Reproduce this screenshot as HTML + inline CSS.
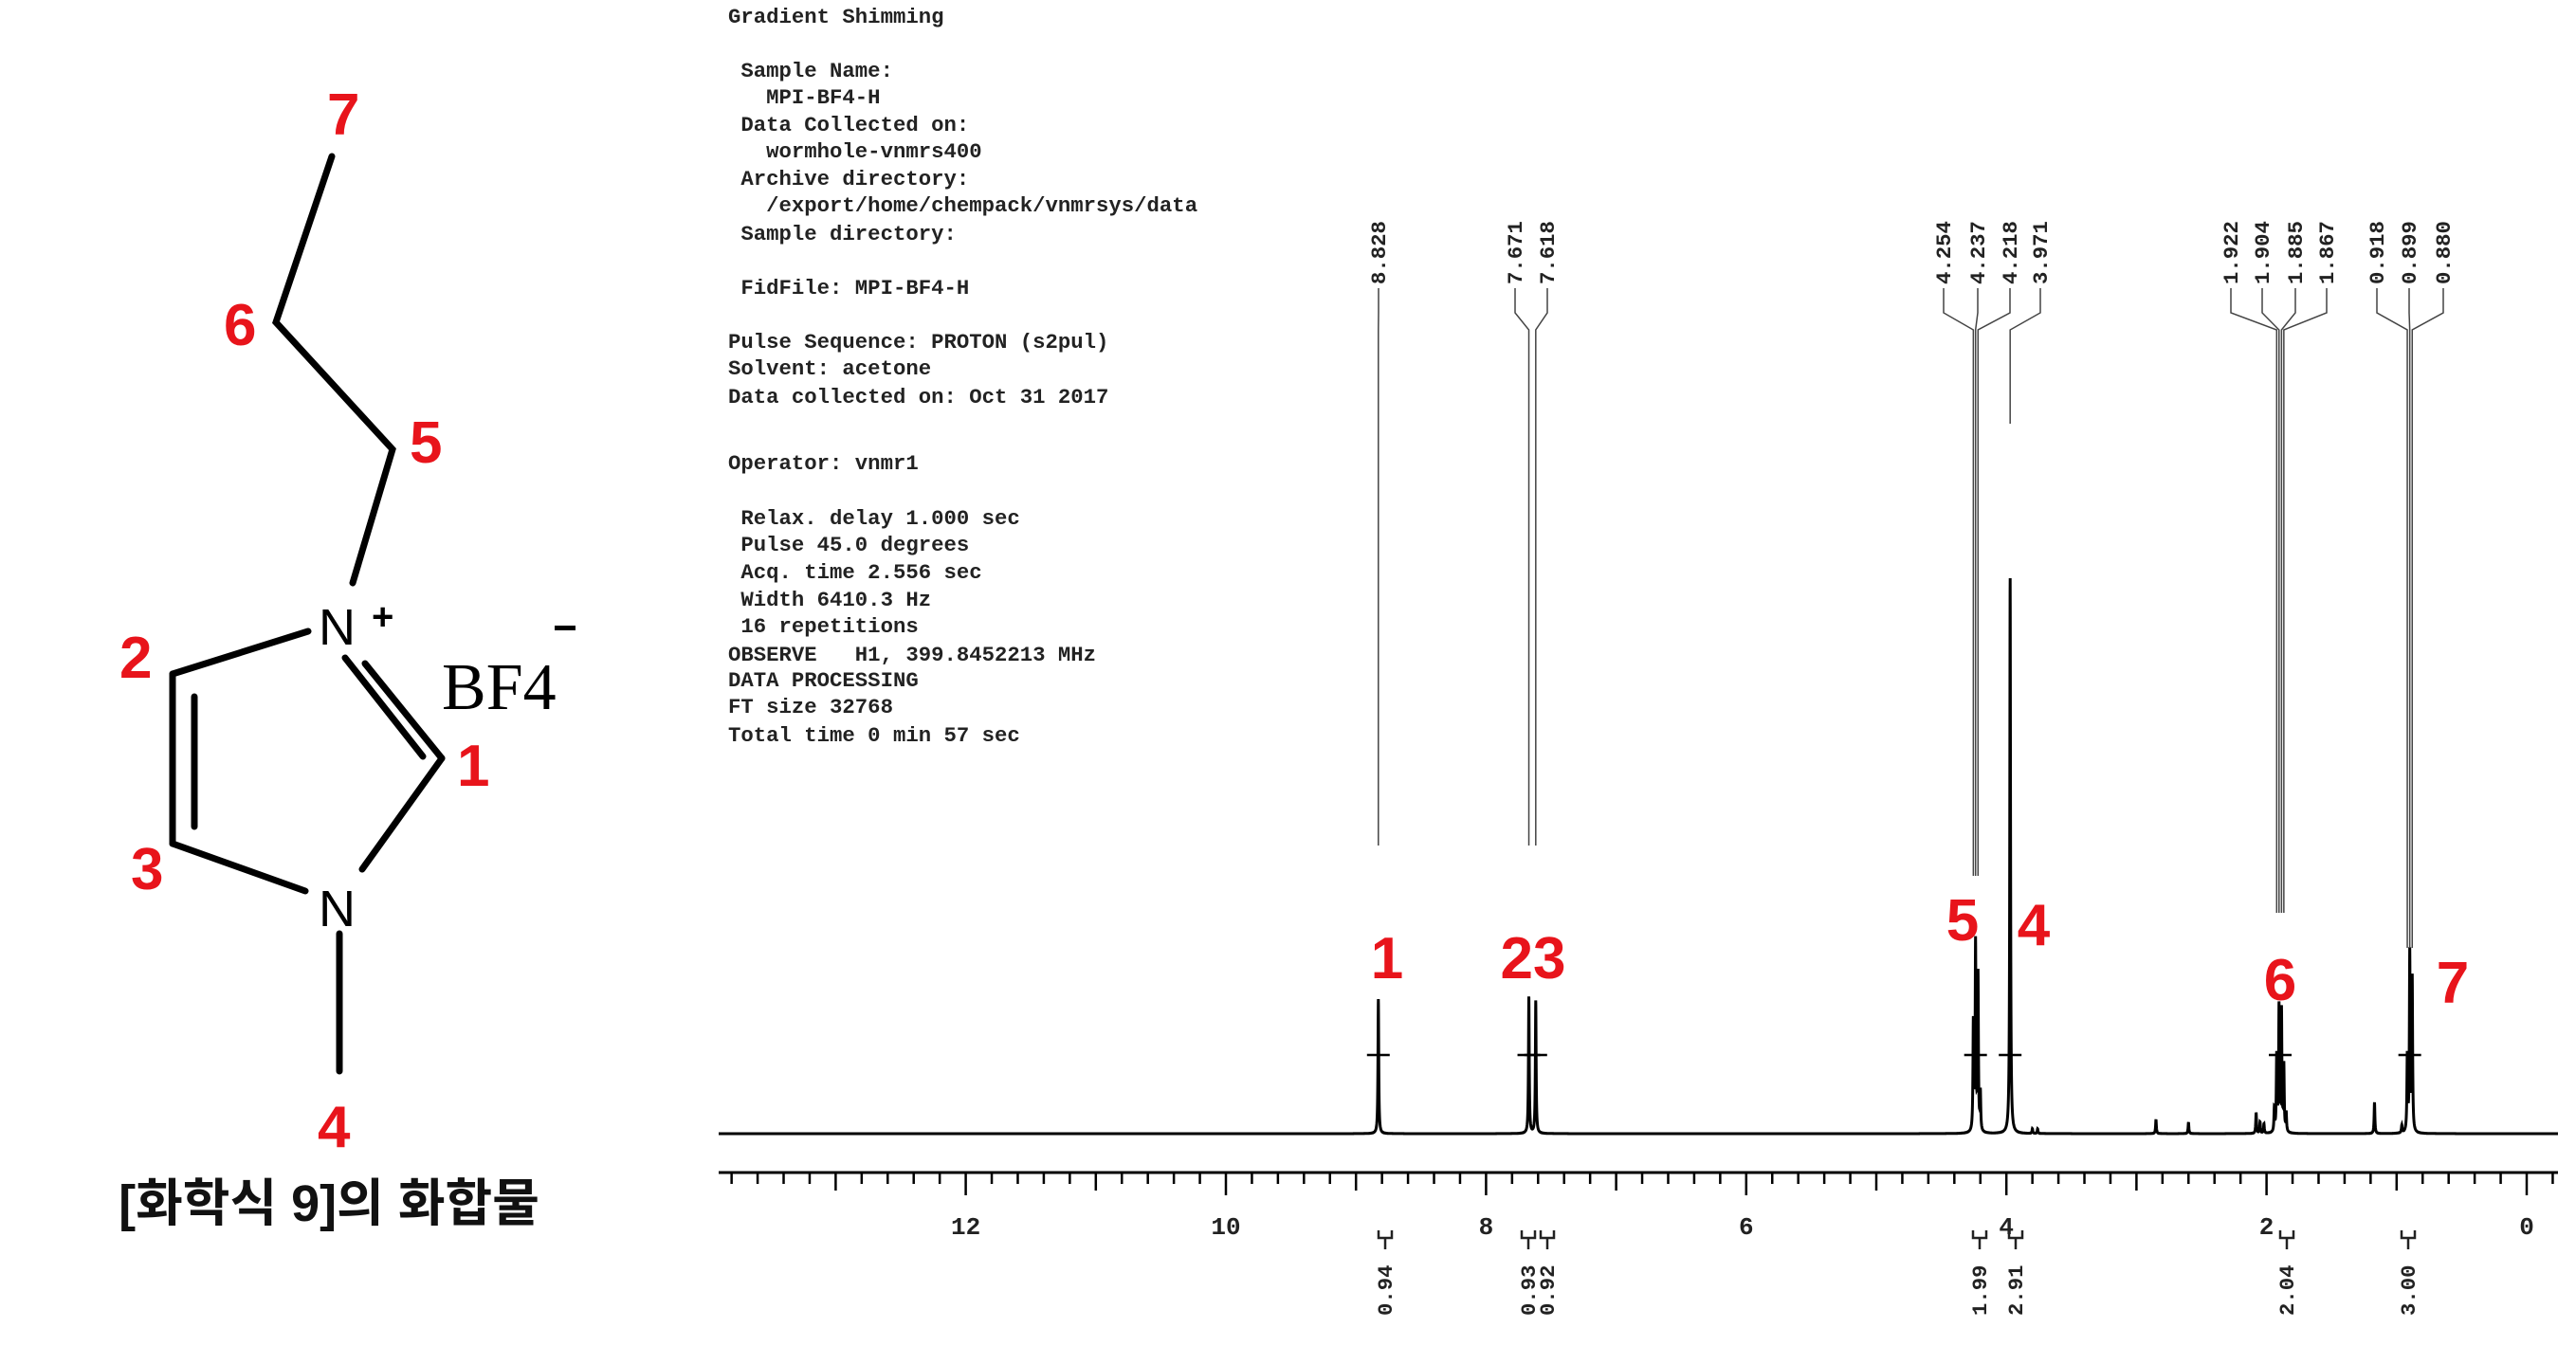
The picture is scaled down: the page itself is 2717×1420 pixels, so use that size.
<!DOCTYPE html>
<html><head><meta charset="utf-8"><style>
html,body{margin:0;padding:0;background:#fff;}
svg{display:block}
.mono{font-family:"Liberation Mono",monospace;font-weight:bold;font-size:22.3px;fill:#222}
.red{font-family:"Liberation Sans",sans-serif;font-weight:bold;font-size:62px;fill:#e8141b}
.tick{font-family:"Liberation Mono",monospace;font-weight:bold;font-size:26px;fill:#222}
</style></head><body>
<svg id="chart" width="2717" height="1420" viewBox="0 0 2717 1420" xmlns="http://www.w3.org/2000/svg">
<g stroke="#000" stroke-width="7" fill="none" stroke-linecap="round">
  <polyline points="350,165 291,340 414,474 372,615"/>
  <line x1="325" y1="666" x2="182" y2="711"/>
  <line x1="182" y1="711" x2="182" y2="890"/>
  <line x1="205" y1="735" x2="205" y2="872"/>
  <line x1="182" y1="890" x2="322" y2="940"/>
  <line x1="382" y1="917" x2="466" y2="800"/>
  <line x1="466" y1="800" x2="385" y2="700"/>
  <line x1="446" y1="798" x2="364" y2="694"/>
  <line x1="358" y1="985" x2="358" y2="1130"/>
</g>
<g font-family="Liberation Sans, sans-serif" font-size="54" fill="#000">
  <text x="336" y="680">N</text>
  <text x="392" y="664" font-size="40" font-weight="bold">+</text>
  <text x="336" y="977">N</text>
  <text x="466" y="748" font-family="Liberation Serif, serif" font-size="70">BF4</text>
  <rect x="585" y="660" width="22" height="5"/>
</g>
<g class="red">
  <text x="345" y="142">7</text>
  <text x="236" y="364">6</text>
  <text x="432" y="488">5</text>
  <text x="126" y="715">2</text>
  <text x="138" y="938">3</text>
  <text x="482" y="829">1</text>
  <text x="335" y="1210">4</text>
</g>
<text x="347" y="1288" text-anchor="middle" font-family="Liberation Sans, 'Noto Sans CJK KR', sans-serif" font-size="54" font-weight="bold" fill="#111">[화학식 9]의 화합물</text>

<g class="mono">
  <text x="768" y="24">Gradient Shimming</text>
  <text x="768" y="81">&#160;Sample Name:</text>
  <text x="768" y="109">&#160;&#160;&#160;MPI-BF4-H</text>
  <text x="768" y="138">&#160;Data Collected on:</text>
  <text x="768" y="166">&#160;&#160;&#160;wormhole-vnmrs400</text>
  <text x="768" y="195">&#160;Archive directory:</text>
  <text x="768" y="223">&#160;&#160;&#160;/export/home/chempack/vnmrsys/data</text>
  <text x="768" y="253">&#160;Sample directory:</text>
  <text x="768" y="310">&#160;FidFile: MPI-BF4-H</text>
  <text x="768" y="367">Pulse Sequence: PROTON (s2pul)</text>
  <text x="768" y="395">Solvent: acetone</text>
  <text x="768" y="425">Data collected on: Oct 31 2017</text>
  <text x="768" y="495">Operator: vnmr1</text>
  <text x="768" y="553">&#160;Relax. delay 1.000 sec</text>
  <text x="768" y="581">&#160;Pulse 45.0 degrees</text>
  <text x="768" y="610">&#160;Acq. time 2.556 sec</text>
  <text x="768" y="639">&#160;Width 6410.3 Hz</text>
  <text x="768" y="667">&#160;16 repetitions</text>
  <text x="768" y="697">OBSERVE&#160;&#160;&#160;H1, 399.8452213 MHz</text>
  <text x="768" y="724">DATA PROCESSING</text>
  <text x="768" y="752">FT size 32768</text>
  <text x="768" y="782">Total time 0 min 57 sec</text>
</g>
<g id="spec"></g>
<g class="red">
  <text x="1463" y="1032" text-anchor="middle">1</text>
  <text x="1617" y="1032" text-anchor="middle">23</text>
  <text x="2070" y="992" text-anchor="middle">5</text>
  <text x="2145" y="997" text-anchor="middle">4</text>
  <text x="2405" y="1055" text-anchor="middle">6</text>
  <text x="2587" y="1058" text-anchor="middle">7</text>
</g>
</svg>
<script>
const peakPpm = [8.828, 7.671, 7.618, 4.254, 4.237, 4.218, 4.200, 3.971, 1.940, 1.922, 1.904, 1.885, 1.867, 1.849, 0.918, 0.899, 0.880, 2.85, 2.60, 2.08, 2.05, 2.02, 1.17, 0.96, 3.80, 3.76];
const peakHeight = [142, 145, 140, 115, 198, 165, 40, 587, 25, 80, 132, 128, 70, 20, 80, 190, 163, 15, 12, 22, 12, 10, 33, 8, 5, 5];
const labelValues = ["8.828","7.671","7.618","4.254","4.237","4.218","3.971","1.922","1.904","1.885","1.867","0.918","0.899","0.880"];
const labelPpm = [8.828, 7.671, 7.618, 4.254, 4.237, 4.218, 3.971, 1.922, 1.904, 1.885, 1.867, 0.918, 0.899, 0.880];
const labelSlotX = [1454, 1598, 1632, 2050, 2086, 2120, 2152, 2353, 2386, 2421, 2454, 2507, 2541, 2577];
const labelLineEnd = [892, 892, 892, 924, 924, 924, 447, 963, 963, 963, 963, 1000, 1000, 1000];
const axisTicks = [12, 10, 8, 6, 4, 2, 0];
const integralValues = ["0.94", "0.93", "0.92", "1.99", "2.91", "2.04", "3.00"];
const integralSlotX = [1461, 1612, 1632, 2088, 2126, 2412, 2540];
const crossPpm = [8.828, 7.671, 7.618, 4.237, 3.971, 1.895, 0.899];

const NS = "http://www.w3.org/2000/svg";
const X0 = 2665, PX = 137.2, BASE = 1196;
const xs = p => X0 - p * PX;
const ys = v => BASE - v;
const g = document.getElementById('spec');
function mk(tag, attrs, parent) {
  const e = document.createElementNS(NS, tag);
  for (const k in attrs) e.setAttribute(k, attrs[k]);
  (parent || g).appendChild(e);
  return e;
}
let d = '';
const w = 0.0035;
for (let x = 758; x <= 2698; x += 0.1) {
  const p = (X0 - x) / PX;
  let v = 0;
  for (let i = 0; i < peakPpm.length; i++) {
    const dd = (p - peakPpm[i]) / w;
    v += peakHeight[i] / (1 + dd * dd);
  }
  d += (d ? 'L' : 'M') + x.toFixed(2) + ',' + ys(v).toFixed(1);
}
const trace = mk('path', {d: d, fill: 'none', stroke: '#000', 'stroke-width': 3});


const ax = mk('line', {x1: 758, x2: 2698, y1: 1237, y2: 1237, stroke: '#000', 'stroke-width': 3});


for (let k = -1; k <= 69; k++) {
  const p = k * 0.2;
  const x = xs(p);
  if (x < 760 || x > 2698) continue;
  const major = Math.abs(p - Math.round(p)) < 1e-6;
  const even = major && Math.round(p) % 2 === 0;
  const t = mk('line', {x1: x, x2: x, y1: 1237, y2: even ? 1261 : (major ? 1256 : 1249), stroke: '#000', 'stroke-width': 2.5});
  
  
}
axisTicks.forEach(v => {
  const t = mk('text', {x: xs(v), y: 1302, 'text-anchor': 'middle', class: 'tick'});
  t.textContent = v;
  
  
});
labelValues.forEach((s, i) => {
  const sx = labelSlotX[i], px = xs(labelPpm[i]);
  const t = mk('text', {x: 0, y: 0, class: 'mono', transform: `translate(${sx + 7},300) rotate(-90)`});
  t.textContent = s;
  
  
  const pl = mk('polyline', {points: `${sx},304 ${sx},330 ${px},348 ${px},${labelLineEnd[i]}`, fill: 'none', stroke: '#444', 'stroke-width': 1.5});
  
  
});
crossPpm.forEach(p => {
  const c = mk('line', {x1: xs(p) - 12, x2: xs(p) + 12, y1: 1113, y2: 1113, stroke: '#000', 'stroke-width': 2.5});
  
  
});
integralValues.forEach((s, i) => {
  const sx = integralSlotX[i];
  const m = mk('path', {d: `M${sx - 7},1298 V1306 H${sx + 7} V1298 M${sx},1306 V1318`, fill: 'none', stroke: '#222', 'stroke-width': 2.5});
  
  
  const t = mk('text', {x: 0, y: 0, class: 'mono', transform: `translate(${sx + 7},1388) rotate(-90)`});
  t.textContent = s;
  
  
});
</script>
</body></html>
